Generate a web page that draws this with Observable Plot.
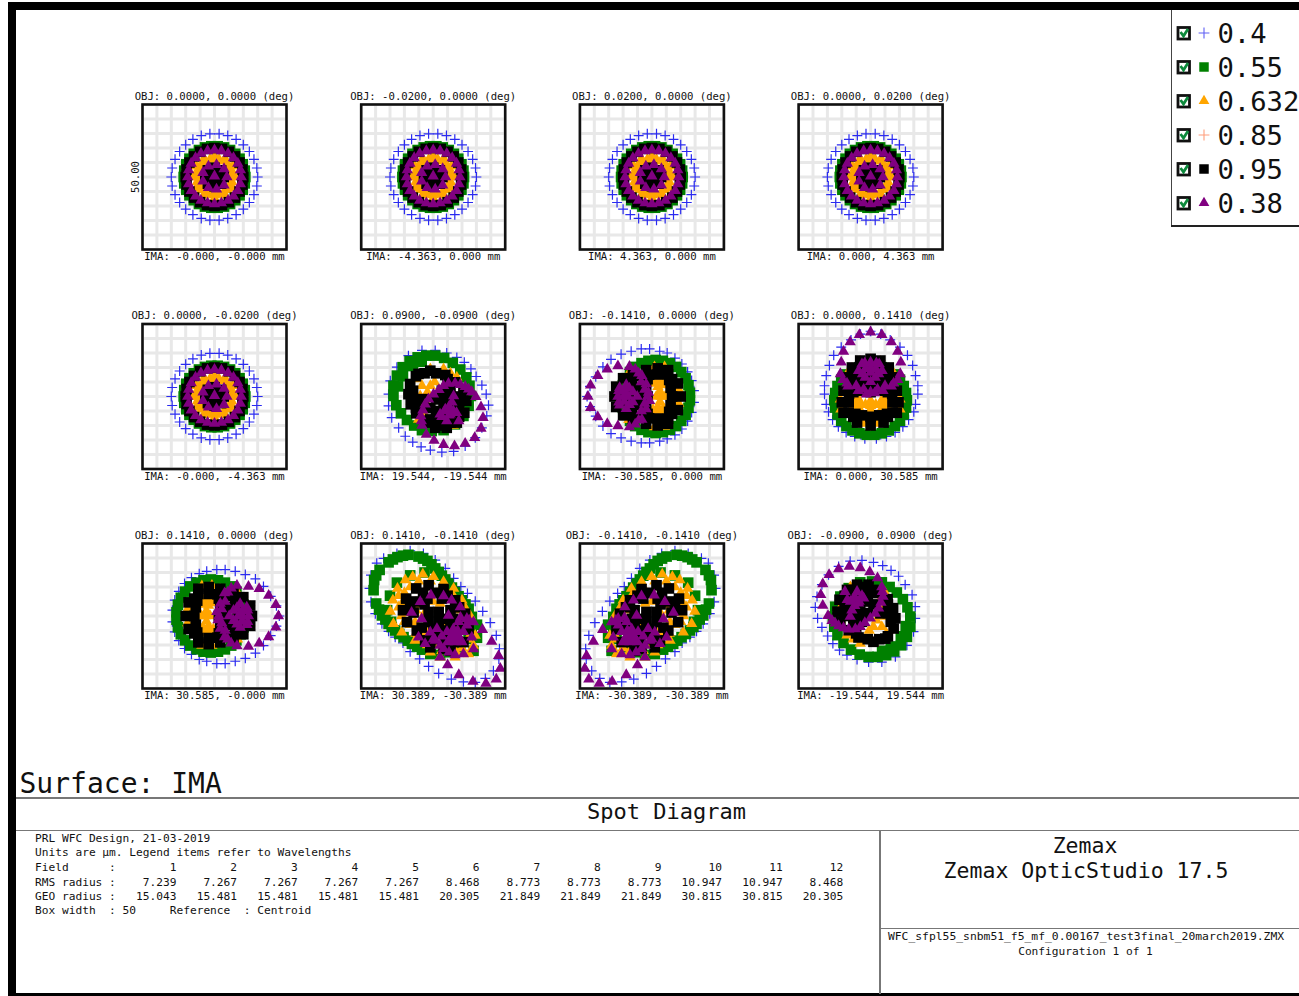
<!DOCTYPE html>
<html><head><meta charset="utf-8">
<script src="https://cdn.jsdelivr.net/npm/d3@7"></script>
<script src="https://cdn.jsdelivr.net/npm/@observablehq/plot@0.6"></script>
<style>
html,body{margin:0;padding:0;background:#fff;width:1299px;height:996px;overflow:hidden}
#chart{position:absolute;left:0;top:0}
.t{position:absolute;white-space:pre;font-family:"DejaVu Sans Mono",monospace;color:#111;transform:translateY(-50%);line-height:1}
.r{position:absolute}
</style></head><body>
<div id="chart"></div>
<script>
// Wavelengths (legend)
const wavelengths = ["0.4","0.55","0.632","0.85","0.95","0.38"];
const waveColors = ["#2a2af0","#008000","#ffa500","#ff7f50","#000000","#800080"];
const waveSymbols = ["plus","square","triangle","plus","square","triangle"];

// Panel labels
const objLabels = ["OBJ: 0.0000, 0.0000 (deg)","OBJ: -0.0200, 0.0000 (deg)","OBJ: 0.0200, 0.0000 (deg)","OBJ: 0.0000, 0.0200 (deg)",
"OBJ: 0.0000, -0.0200 (deg)","OBJ: 0.0900, -0.0900 (deg)","OBJ: -0.1410, 0.0000 (deg)","OBJ: 0.0000, 0.1410 (deg)",
"OBJ: 0.1410, 0.0000 (deg)","OBJ: 0.1410, -0.1410 (deg)","OBJ: -0.1410, -0.1410 (deg)","OBJ: -0.0900, 0.0900 (deg)"];
const imaLabels = ["IMA: -0.000, -0.000 mm","IMA: -4.363, 0.000 mm","IMA: 4.363, 0.000 mm","IMA: 0.000, 4.363 mm",
"IMA: -0.000, -4.363 mm","IMA: 19.544, -19.544 mm","IMA: -30.585, 0.000 mm","IMA: 0.000, 30.585 mm",
"IMA: 30.585, -0.000 mm","IMA: 30.389, -30.389 mm","IMA: -30.389, -30.389 mm","IMA: -19.544, 19.544 mm"];
const gridTicks = [-25,-20,-15,-10,-5,0,5,10,15,20,25];

// Text block
const fieldNumbers = [1,2,3,4,5,6,7,8,9,10,11,12];
const rmsRadius = ["7.239","7.267","7.267","7.267","7.267","8.468","8.773","8.773","8.773","10.947","10.947","8.468"];
const geoRadius = ["15.043","15.481","15.481","15.481","15.481","20.305","21.849","21.849","21.849","30.815","30.815","20.305"];

// Spots in micrometres: on-axis fields
const axisBlue = [[15,0],[14.7,3.1],[13.7,6.1],[12.1,8.8],[10,11.1],[7.5,13],[4.6,14.3],[1.6,14.9],[-1.6,14.9],[-4.6,14.3],[-7.5,13],[-10,11.1],[-12.1,8.8],[-13.7,6.1],[-14.7,3.1],[-15,0],[-14.7,-3.1],[-13.7,-6.1],[-12.1,-8.8],[-10,-11.1],[-7.5,-13],[-4.6,-14.3],[-1.6,-14.9],[1.6,-14.9],[4.6,-14.3],[7.5,-13],[10,-11.1],[12.1,-8.8],[13.7,-6.1],[14.7,-3.1]];
const axisGreen = [[10.7,0],[10.5,2.2],[9.8,4.4],[8.7,6.3],[7.2,8],[5.4,9.3],[3.3,10.2],[1.1,10.6],[-1.1,10.6],[-3.3,10.2],[-5.4,9.3],[-7.2,8],[-8.7,6.3],[-9.8,4.4],[-10.5,2.2],[-10.7,0],[-10.5,-2.2],[-9.8,-4.4],[-8.7,-6.3],[-7.2,-8],[-5.4,-9.3],[-3.3,-10.2],[-1.1,-10.6],[1.1,-10.6],[3.3,-10.2],[5.4,-9.3],[7.2,-8],[8.7,-6.3],[9.8,-4.4],[10.5,-2.2]];
const axisOrange = [[6.2,0],[6,1.6],[5.4,3.1],[4.4,4.4],[3.1,5.4],[1.6,6],[0,6.2],[-1.6,6],[-3.1,5.4],[-4.4,4.4],[-5.4,3.1],[-6,1.6],[-6.2,0],[-6,-1.6],[-5.4,-3.1],[-4.4,-4.4],[-3.1,-5.4],[-1.6,-6],[0,-6.2],[1.6,-6],[3.1,-5.4],[4.4,-4.4],[5.4,-3.1],[6,-1.6],[7.3,0],[6.3,3.7],[3.7,6.3],[0,7.3],[-3.7,6.3],[-6.3,3.7],[-7.3,0],[-6.3,-3.7],[-3.7,-6.3],[0,-7.3],[3.7,-6.3],[6.3,-3.7]];
const axisBlack = [[10,0],[9.7,2.6],[8.7,5],[7.1,7.1],[5,8.7],[2.6,9.7],[0,10],[-2.6,9.7],[-5,8.7],[-7.1,7.1],[-8.7,5],[-9.7,2.6],[-10,0],[-9.7,-2.6],[-8.7,-5],[-7.1,-7.1],[-5,-8.7],[-2.6,-9.7],[0,-10],[2.6,-9.7],[5,-8.7],[7.1,-7.1],[8.7,-5],[9.7,-2.6],[3.2,0],[2.3,2.3],[0,3.2],[-2.3,2.3],[-3.2,0],[-2.3,-2.3],[0,-3.2],[2.3,-2.3],[0,0]];
const axisPurple = [[9.3,0],[9,2.4],[8.1,4.7],[6.6,6.6],[4.7,8.1],[2.4,9],[0,9.3],[-2.4,9],[-4.7,8.1],[-6.6,6.6],[-8.1,4.7],[-9,2.4],[-9.3,0],[-9,-2.4],[-8.1,-4.7],[-6.6,-6.6],[-4.7,-8.1],[-2.4,-9],[0,-9.3],[2.4,-9],[4.7,-8.1],[6.6,-6.6],[8.1,-4.7],[9,-2.4],[4.3,0],[3.3,2.8],[0.7,4.2],[-2.1,3.7],[-4,1.5],[-4,-1.5],[-2.1,-3.7],[0.7,-4.2],[3.3,-2.8],[0,0.3]];

// Spots: 0.141 deg along an axis (drawn as field 0.0000, 0.1410)
const edgeBlue = [[0,22.5],[3.5,21.5],[-3.5,21.5],[-6.8,19.5],[6.8,19.5],[-10.2,17],[10.2,17],[-12.8,14.2],[12.8,14.2],[-14.3,10.7],[14.6,10.7],[-15.4,7.2],[15.6,7.2],[-16,3.7],[16.4,3.7],[-16,0.8],[16.4,0.8],[-15.4,-2.7],[15.6,-2.7],[-14.6,-5.3],[15,-5.3],[-13.2,-8],[13.2,-8],[-11.2,-10.4],[11.2,-10.4],[-8.5,-12.4],[8.5,-12.4],[-5.5,-13.8],[5.5,-13.8],[-2,-14.6],[2,-14.6]];
const edgeGreen = [[12.6,-1.3],[12.3,1.2],[11.5,3.6],[10.2,5.8],[8.4,7.6],[6.3,9.1],[3.9,10.1],[1.3,10.6],[-1.3,10.6],[-3.9,10.1],[-6.3,9.1],[-8.4,7.6],[-10.2,5.8],[-11.5,3.6],[-12.3,1.2],[-12.6,-1.3],[-12.3,-3.8],[-11.5,-6.2],[-10.2,-8.4],[-8.4,-10.2],[-6.3,-11.7],[-3.9,-12.7],[-1.3,-13.2],[1.3,-13.2],[3.9,-12.7],[6.3,-11.7],[8.4,-10.2],[10.2,-8.4],[11.5,-6.2],[12.3,-3.8]];
const edgeOrange = [[-3.6,-2.1],[0,-3.2],[3.4,-2.1],[-5.7,-0.9],[5.7,-0.9],[-1.8,-2.8],[1.8,-2.8],[-10.5,-0.9],[-10.3,-4.4],[10.2,-0.9],[10.2,-4.4],[-2.4,-9.3],[2.4,-9.3],[-8,8],[8,8],[-7.5,-1.5],[7.5,-1.5],[-5,-2.6],[5,-2.6],[-4.5,-0.4],[4.5,-0.4],[0,-1.5],[-6,-3.4],[6,-3.4],[-4,-4],[4,-4],[0,-4.6]];
const edgeBlack = [[0,13],[-3.6,12.4],[3.4,12.4],[-6.5,10],[6.3,10],[-8.2,6.6],[8,6.6],[-9.4,2],[9.1,2],[-10,-2],[9.7,-2],[-9.4,-5.6],[9.1,-5.6],[-7.6,-5.6],[7.6,-5.6],[-4.7,-9],[4.5,-9],[0,-10],[-5.3,-6],[5.7,-6],[-6,-7],[6,-7],[0,-7],[-3.6,2],[3.4,2],[0,1.5],[-6,1.5],[6,1.5],[-7,4],[7,4],[0,4],[-3,8],[3,8],[0,8],[-3,-6.5],[3,-6.5],[-7.6,-2],[7.6,-2],[-7.5,1],[7.5,1],[-5.5,3],[5.5,3],[-3,5],[3,5],[-6,7],[6,7],[-1.8,10.5],[1.8,10.5]];
const edgePurple = [[-3.9,21.3],[0,22.2],[3.9,21.3],[7.2,18.8],[-7.1,18.8],[9.4,15.5],[-9.4,15.5],[10.5,11.8],[-10.2,11.8],[10.3,7.8],[-10.5,7.8],[9.4,5.8],[-9.6,5.8],[8,4.6],[-8.2,4.6],[7.2,3.5],[-7.9,3.5],[5,3.7],[-5,3.7],[4.3,2],[-4.3,2],[0,1.5],[-1.5,0.8],[1.4,1.2],[-2.4,2.5],[2.4,2.5],[-3,11.2],[3,11.2],[0,11.8],[-4.2,8.9],[4,8.9],[0,8.3],[-1.9,6.6],[1.6,6.6],[0,5.1],[0,9.7],[-1.7,9.6],[1.7,9.6],[-2.8,7.8],[2.8,7.8],[-2,11.5],[2,11.5]];

// Spots: diagonal field, 0.1410 deg (drawn as field 0.1410, -0.1410)
const cornerBlue = [[-8,22.5],[-3.4,21.6],[0.7,19.3],[4.2,16.4],[7.1,13],[9.6,10.1],[11.9,7.8],[14.6,5.1],[17.2,1.6],[19.8,-2.3],[21.9,-6.7],[23,-11.3],[22.8,-14.8],[20.9,-18.9],[18.1,-21.5],[14.6,-22.9],[10.5,-22.7],[6.3,-21.8],[1.9,-19.8],[-1.6,-17.4],[-4.7,-14.8],[-8,-12.3],[-10.5,-9.3],[-13.2,-7.3],[-15.5,-5.3],[-17.8,-2.7],[-20.1,0.8],[-21.6,4.9],[-22.1,9.5],[-21.6,14.1],[-19.6,18.2],[-17.2,19.9],[-12.6,21.6]];
const cornerGreen = [[-20.7,8.9],[-20.5,12.4],[-18.6,15.9],[-15.5,18.5],[-12.4,20.3],[-8.6,21.1],[-5.1,20.5],[-2,19],[0.7,16.4],[3,13.9],[5.3,11.2],[7.6,8.3],[10,5.4],[12.3,2.5],[13.4,-0.3],[13.4,-3.8],[12.3,-7.9],[9.4,-10.8],[5.9,-12.5],[2.4,-13.4],[-1,-13.1],[-3.9,-11.6],[-7.4,-9.6],[-10.3,-7.3],[-13.2,-5],[-15.5,-2.7],[-17.8,0.2],[-19.8,4.3],[-12.6,11.5],[-15,7],[-16,2],[-14.6,-2],[15.2,-3],[15.2,-7.5],[14,-12],[-8,14],[-3,15],[-14,19.5],[-19.8,14],[-10.5,20.8],[-3.5,19.8],[-0.6,17.8],[1.9,15.2],[4.2,12.6],[6.5,9.8],[8.8,6.8],[11.2,4],[-18.8,2.2],[-16.6,-1.2],[-14.4,-3.8],[-11.8,-6.2],[-8.8,-8.5],[-5.6,-10.6]];
const cornerOrange = [[-7.1,13.5],[-3.6,14.4],[0.1,13.5],[3.6,11.8],[-9.7,12.4],[-12.4,9.5],[-14,5.4],[-14.9,1.6],[-13.8,-2.7],[-10.9,-5.6],[-6.3,-8.4],[-1,-12.5],[2.4,-14.2],[7.6,-14.2],[12.3,-13.1],[14,-10.2],[14.6,-6.7],[7.1,9.5],[10,5.4],[12.8,0.2],[-3.9,3.9],[-6.3,-2.1],[-4.5,-6.1],[2.4,4.3],[-10,8],[-11,4],[-11,0],[-8,-3],[-3,-8],[0,-10],[5,-12],[10,-11],[12,-8],[11,-3],[9,2],[6,6],[2,8],[-2,10],[-6,10],[-6,2],[-2,-6],[4,-3],[-9,5],[-8,10],[-5,12],[-1,12],[3,10],[7,7],[11,3],[12.5,-5],[8,-12.5],[3,-12],[-2,-10],[-6,-6],[-10,-2],[-12,3],[-12,7],[0,5],[-3,1],[-8,1]];
const cornerBlack = [[-5.9,9.5],[-1.6,10.6],[3.6,9.3],[7.6,5.4],[-9.4,6],[-10.5,2],[-9.1,-2.1],[-6.8,1.2],[-5.7,-5],[-2.8,-8.4],[-1.6,1.4],[1.9,1.4],[-1.6,-2.1],[1.9,-2.1],[0.1,-4.4],[3.6,-11.3],[-1,-10.8],[10.5,-9],[12.3,-4.4],[11.1,0.8],[1,8],[5,7],[-6,5],[-2,6],[3,6],[6,2],[9,3],[4,-1],[7,-1],[9,-4],[6,-4],[0,-8],[4,-8],[7,-9],[6,-12],[-3,4],[-4,-4],[-8,3],[-3.5,8],[10,-2],[3,-5]];
const cornerPurple = [[5,-16.9],[8.9,-20.3],[13.8,-22.6],[18.3,-23.3],[21.9,-21.8],[23.3,-18.1],[22.7,-13.7],[20.3,-8.8],[17.1,-4.7],[14,-2.1],[9.4,3.1],[3.6,6.9],[-0.8,7.2],[-4.5,4.9],[6.4,5.4],[11.7,-0.9],[-5.1,-7.3],[-2.8,-9.6],[2.4,-14.2],[0,-8],[-1,-5.6],[-7.5,1.2],[-4,-1],[7.6,-6.1],[5.9,-7.9],[9.4,-7.9],[7.6,-9],[4.8,-5.4],[10.5,-5.4],[1.3,-4.4],[5.3,0.2],[8.8,-2],[11.7,-3.2],[13.4,-7.3],[14,-11.4],[10.5,-13.1],[7.6,-13.4],[3.6,-11.3],[0.7,-8.4],[2.4,-10.2],[7,-4.5],[8.5,-5],[6.5,-6.5],[8.5,-6.5],[7.6,-8],[5,-9],[10,-9],[9.5,-0.5],[12.5,-1.5],[3,-7],[5.5,-12.5]];

// Spots: diagonal field, 0.0900 deg (drawn as field 0.0900, -0.0900)
const midBlue = [[-15.5,-3.2],[-14.4,-7.3],[-12,-10.8],[-9.7,-13.7],[-7.1,-15.7],[-4.2,-17.4],[-1,-18.5],[3,-19.2],[7.1,-18.9],[11.1,-17.1],[14.6,-14.2],[16.9,-10.8],[18.6,-6.7],[19.2,-3],[18.4,0.8],[16.9,3.9],[14.9,6.9],[13.1,9.5],[10.8,11.8],[8.2,13.5],[4.7,15],[0.7,15.9],[-3.9,15.9],[-8.6,14.1],[-12.6,10.1],[-14.9,5.4],[-15.5,0.8]];
const midGreen = [[-13.8,0.2],[-13.8,3.7],[-12.6,7.2],[-10.6,10.1],[-8.2,12.2],[-5.4,13.5],[-2.4,14.1],[0.7,14.1],[3.8,13.3],[6.8,11.6],[9.4,9.3],[11.5,6.6],[12.6,3.7],[13.1,0.2],[12.3,-3.2],[10.5,-6.7],[7.6,-9.6],[3.6,-11.6],[-0.5,-11.9],[-3.9,-11.6],[-6.6,-10],[-9.1,-8.1],[-11.2,-5.8],[-12.8,-3],[-7,10.5],[-10.5,7],[-12.2,3.5],[-4,12]];
const midOrange = [[-1,9.5],[3.6,9.5],[8.2,6.6],[-4.5,0.2],[-3.9,3.7],[-1,3.7],[-4.5,-2.7],[-3.4,-5.6],[-5.1,-7.9],[10.5,1.4],[-2,1.5],[-3,-1],[0.5,5],[-5.5,6],[6,8],[11,-2],[7,-10]];
const midBlack = [[-5.1,7.8],[-1,8.9],[4.2,7.4],[7.6,4.9],[-8,4.3],[-8.6,0.8],[-7.8,-2.7],[-5.9,-5.8],[-2.8,-8.4],[0.7,-10.8],[4.7,-10.8],[8.2,-9],[10.8,-5.6],[11.5,-1.5],[10.5,2],[-3.4,-0.9],[-1,-7.9],[2.4,-7.9],[3.6,-3.2],[7.1,-4.4],[-6,7],[-3,8],[1,8],[5,6],[-7,2],[-6,-1],[-6,-4],[-1,-9],[2,-10],[6,-9],[9,-7],[9,-3],[9,0],[3,2],[6,2],[3,0],[6,-1],[1,-1],[-1,-4],[1,-5],[5,-6],[6,-8]];
const midPurple = [[-2.4,-13.1],[0.3,-15.2],[3.6,-16.6],[7.4,-17.1],[11.1,-16.2],[14.4,-14.2],[16.6,-11],[17.3,-7.3],[16.6,-3.6],[14.8,-0.1],[13.4,1.6],[11.1,3.4],[7.6,4.6],[5.3,4.5],[3.6,3.7],[0.1,0.8],[-1.6,-0.9],[-2.8,-2.7],[-4.3,-6.7],[-3.9,-10],[4.2,-4.4],[2.4,-6.1],[5.9,-6.1],[8.1,-5.6],[7.1,0.2],[8.9,-8.4],[4.7,-8.4],[9.4,4.1],[2,2.3],[12.3,2.5],[-3.6,-4.7],[-4.1,-8.4],[5.5,-3.5],[4,-5],[7,-5],[5.5,-6.5],[3,-7],[6.5,-2]];

const spotSets = {
  axis:[axisBlue,axisGreen,axisOrange,axisBlack,axisBlack,axisPurple],
  edge:[edgeBlue,edgeGreen,edgeOrange,edgeBlack,edgeBlack,edgePurple],
  corner:[cornerBlue,cornerGreen,cornerOrange,cornerBlack,cornerBlack,cornerPurple],
  mid:[midBlue,midGreen,midOrange,midBlack,midBlack,midPurple]
};
// Each panel: which spot set, and its quarter-turn or mirror
const turns = {same:[1,0,0,1],left:[0,-1,1,0],right:[0,1,-1,0],half:[-1,0,0,-1],mirror:[-1,0,0,1]};
const panelSets = ["axis","axis","axis","axis","axis","mid","edge","edge","edge","corner","corner","mid"];
const panelTurns = ["same","same","same","same","same","same","left","same","right","same","mirror","half"];

const panels = objLabels.map((obj,i)=>({i,col:i%4,row:Math.floor(i/4),obj,ima:imaLabels[i]}));
function rowsFor(w){
  return panels.flatMap(p=>{
    const [a,b,c,d]=turns[panelTurns[p.i]];
    return spotSets[panelSets[p.i]][w].map(([x,y])=>({x:a*x+b*y,y:c*x+d*y,col:p.col,row:p.row}));
  });
}
const sizes = {plus:3.3,square:6,triangle:4.2};
const spotMarks = wavelengths.map((_,w)=>{
  const s=waveSymbols[w];
  const o={x:"x",y:"y",fx:"col",fy:"row",symbol:s,r:sizes[s]};
  if(s==="plus"){o.stroke=waveColors[w];o.strokeWidth=1.2;} else {o.fill=waveColors[w];}
  return Plot.dot(rowsFor(w),o);
});
const mono = "DejaVu Sans Mono";
const labelFont = {fontFamily:mono,fontSize:10.62,fill:"#111",lineAnchor:"middle"};
const chart = Plot.plot({
  width:1299,height:996,marginLeft:142,marginRight:356.9,marginTop:104,marginBottom:308,
  style:{background:"transparent"},
  x:{domain:[-25,25],axis:null},y:{domain:[-25,25],axis:null},
  fx:{domain:[0,1,2,3],axis:null,paddingInner:74.7/218.7,paddingOuter:0,align:0,round:false},
  fy:{domain:[0,1,2],axis:null,paddingInner:74.5/219.5,paddingOuter:0,align:0,round:false},
  marks:[
    Plot.gridX(gridTicks,{stroke:"#e8e8e8",strokeWidth:3,strokeOpacity:1}),
    Plot.gridY(gridTicks,{stroke:"#e8e8e8",strokeWidth:3,strokeOpacity:1}),
    ...spotMarks,
    Plot.frame({stroke:"#111",strokeWidth:2.6}),
    Plot.text(panels,{text:"obj",fx:"col",fy:"row",frameAnchor:"top",dy:-8,...labelFont}),
    Plot.text(panels,{text:"ima",fx:"col",fy:"row",frameAnchor:"bottom",dy:7.5,...labelFont}),
    Plot.text([{col:0,row:0,label:"50.00"}],{text:"label",fx:"col",fy:"row",frameAnchor:"left",dx:-7,rotate:-90,textAnchor:"middle",...labelFont})
  ]
});
document.getElementById("chart").appendChild(chart);

// Report furniture
const body=document.body;
function box(l,t,w,h,c){const d=document.createElement("div");d.className="r";d.style.cssText=`left:${l}px;top:${t}px;width:${w}px;height:${h}px;background:${c}`;body.appendChild(d);}
function txt(x,y,s,size,center){const d=document.createElement("div");d.className="t";d.textContent=s;d.style.left=x+"px";d.style.top=y+"px";d.style.fontSize=size+"px";if(center)d.style.transform="translate(-50%,-50%)";body.appendChild(d);}
box(8,2,1291,8,"#000");box(8,2,8,994,"#000");box(8,993,1291,3,"#000");
box(16,797,1283,1.5,"#777");box(16,829.5,1283,1.5,"#777");box(879,830,1.5,164,"#777");box(879,927.5,420,1.5,"#777");
txt(19.5,784,"Surface: IMA",28);
txt(666.5,812,"Spot Diagram",22,true);
txt(1085,846,"Zemax",21.5,true);
txt(1086,870.5,"Zemax OpticStudio 17.5",21.5,true);
txt(1086,937,"WFC_sfpl55_snbm51_f5_mf_0.00167_test3final_20march2019.ZMX",11.35,true);
txt(1085.5,951.5,"Configuration 1 of 1",11.2,true);
const cols=a=>a.map(v=>String(v).padStart(9," ")).join("");
[["PRL WFC Design, 21-03-2019",839],["Units are µm. Legend items refer to Wavelengths",853],
 ["Field      :"+cols(fieldNumbers),868],["RMS radius :"+cols(rmsRadius),882.5],["GEO radius :"+cols(geoRadius),896.5],
 ["Box width  : 50     Reference  : Centroid",910.5]].forEach(([s,y])=>txt(35,y,s,11.2));

// Legend
box(1170.5,11,128.5,215,"#fff");box(1170.5,10,1.5,216,"#444");box(1170.5,225,128.5,1.5,"#222");
const legendSvg=d3.select(body).append("svg").attr("class","r").attr("width",130).attr("height",215)
  .style("left","1171px").style("top","11px");
wavelengths.forEach((w,i)=>{
  const y=22+34*i;
  const g=legendSvg.append("g").attr("transform",`translate(0,${y})`);
  g.append("rect").attr("x",7).attr("y",-5.5).attr("width",11.5).attr("height",11.5).attr("fill","#fff").attr("stroke","#111").attr("stroke-width",2.8);
  g.append("path").attr("d","M9.5,-1 L12.5,3 L17,-4").attr("fill","none").attr("stroke","#0d8a3c").attr("stroke-width",2.8);
  const s=waveSymbols[i];
  const type=s==="plus"?d3.symbolPlus:s==="square"?d3.symbolSquare:d3.symbolTriangle;
  const path=g.append("path").attr("transform","translate(33,0)").attr("d",d3.symbol(type,s==="plus"?40:s==="square"?90:50)());
  if(s==="plus")path.attr("fill","none").attr("stroke",waveColors[i]).attr("stroke-opacity",.75).attr("stroke-width",1.1);else path.attr("fill",waveColors[i]);
  txt(1217.5,34+34*i,w,27.2);
});
</script></body></html>
